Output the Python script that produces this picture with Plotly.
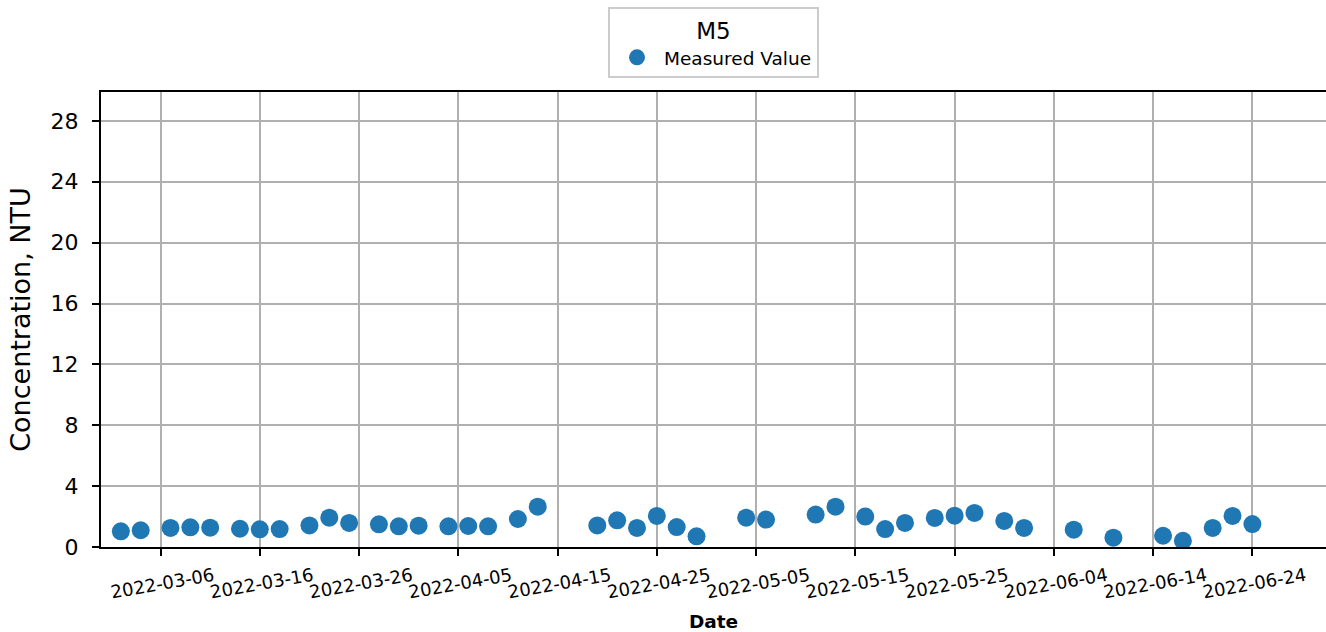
import plotly.graph_objects as go

# Sampling dates and measured turbidity at station M5
dates = [
    "2022-03-02", "2022-03-04", "2022-03-07", "2022-03-09", "2022-03-11",
    "2022-03-14", "2022-03-16", "2022-03-18", "2022-03-21", "2022-03-23",
    "2022-03-25", "2022-03-28", "2022-03-30", "2022-04-01", "2022-04-04",
    "2022-04-06", "2022-04-08", "2022-04-11", "2022-04-13", "2022-04-19",
    "2022-04-21", "2022-04-23", "2022-04-25", "2022-04-27", "2022-04-29",
    "2022-05-04", "2022-05-06", "2022-05-11", "2022-05-13", "2022-05-16",
    "2022-05-18", "2022-05-20", "2022-05-23", "2022-05-25", "2022-05-27",
    "2022-05-30", "2022-06-01", "2022-06-06", "2022-06-10", "2022-06-15",
    "2022-06-17", "2022-06-20", "2022-06-22", "2022-06-24",
]
values = [
    1.03, 1.10, 1.25, 1.29, 1.27,
    1.20, 1.16, 1.18, 1.42, 1.93,
    1.58, 1.49, 1.36, 1.40, 1.36,
    1.38, 1.36, 1.84, 2.65, 1.42,
    1.75, 1.25, 2.04, 1.31, 0.70,
    1.93, 1.80, 2.13, 2.65, 2.00,
    1.18, 1.58, 1.91, 2.06, 2.24,
    1.71, 1.25, 1.14, 0.61, 0.74,
    0.41, 1.25, 2.04, 1.51,
]
station = "M5"
series_name = "Measured Value"
y_ticks = [0, 4, 8, 12, 16, 20, 24, 28]

FONT = "DejaVu Sans"
GRID = "#b0b0b0"

fig = go.Figure()
fig.add_trace(go.Scatter(
    x=dates, y=values, mode="markers", name=series_name,
    marker=dict(size=18, color="#1f77b4", line=dict(width=0)),
    showlegend=True,
))

fig.update_layout(
    width=1326, height=632,
    margin=dict(l=101, r=0, t=92, b=85),
    paper_bgcolor="white", plot_bgcolor="white",
    font=dict(family=FONT, color="black"),
    showlegend=True,
    legend=dict(
        title=dict(text=station, side="top center", font=dict(size=23, family=FONT)),
        font=dict(size=18.5, family=FONT),
        x=0.5, xanchor="center", y=1.031, yanchor="bottom",
        bgcolor="white", bordercolor="#cccccc", borderwidth=2,
        itemwidth=44,
    ),
)

fig.update_xaxes(
    type="date",
    range=["2022-02-28", "2022-07-01 10:00"],
    tick0="2022-03-06", dtick=10 * 86400000, tickformat="%Y-%m-%d",
    tickangle=-10, ticklabelshift=53, ticklabelstandoff=3,
    tickfont=dict(size=18, family=FONT),
    ticks="outside", ticklen=7, tickwidth=1.7, tickcolor="black",
    showline=True, linecolor="black", linewidth=2, mirror=True,
    showgrid=True, gridcolor=GRID, gridwidth=2,
    zeroline=False,
    title=dict(text="<b>Date</b>", font=dict(size=18.5, family=FONT), standoff=16),
)
fig.update_yaxes(
    range=[0, 29.9],
    tickvals=y_ticks,
    tickfont=dict(size=22, family=FONT),
    ticks="outside", ticklen=7, tickwidth=1.7, tickcolor="black",
    ticklabelstandoff=9,
    showline=True, linecolor="black", linewidth=2,
    showgrid=True, gridcolor=GRID, gridwidth=2,
    zeroline=False,
    title=dict(text="Concentration, NTU", font=dict(size=27, family=FONT), standoff=12),
)

fig.write_html("out.html")
